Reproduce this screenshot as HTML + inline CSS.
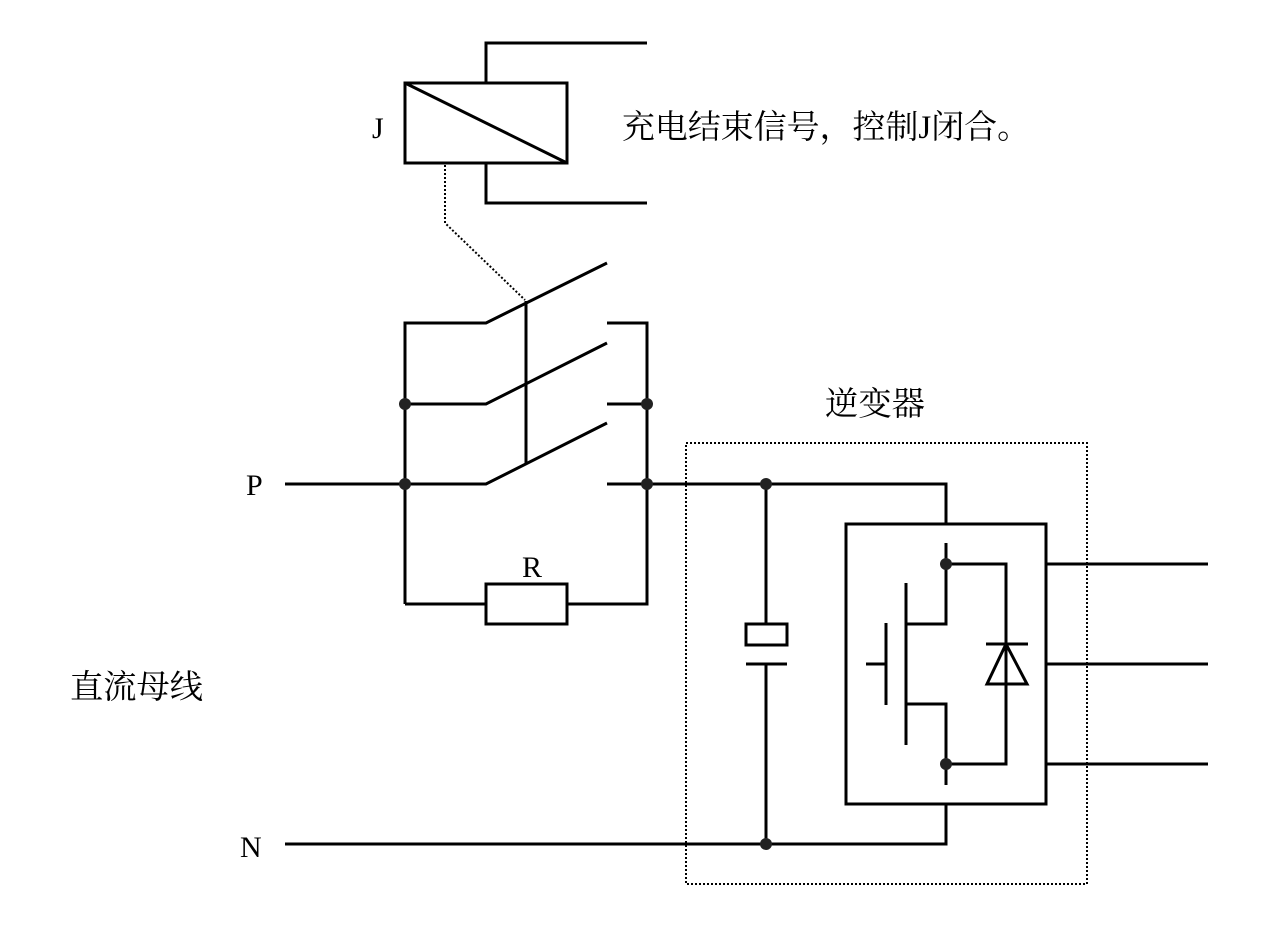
<!DOCTYPE html>
<html><head><meta charset="utf-8"><style>body{margin:0;background:#fff}svg{display:block}</style></head><body>
<svg width="1269" height="937" xmlns="http://www.w3.org/2000/svg" font-family="'Liberation Serif','Noto Serif CJK SC',serif">
<rect width="1269" height="937" fill="#fff"/>
<g stroke="#000" stroke-width="3" fill="none">
<rect x="405" y="83" width="162" height="80"/>
<line x1="405" y1="83" x2="567" y2="163"/>
<polyline points="486,83 486,43 647,43"/>
<polyline points="486,163 486,203 647,203"/>
<polyline points="405,604 405,323 486,323 607,263"/>
<polyline points="405,404 486,404 607,343"/>
<polyline points="285,484 486,484 607,423"/>
<line x1="526" y1="301" x2="526" y2="463"/>
<polyline points="607,323 647,323 647,604 567,604"/>
<line x1="607" y1="404" x2="647" y2="404"/>
<polyline points="607,484 946,484 946,524"/>
<polyline points="405,604 486,604"/>
<rect x="486" y="584" width="81" height="40"/>
<polyline points="285,844 946,844 946,804"/>
<line x1="766" y1="484" x2="766" y2="624"/>
<line x1="766" y1="664" x2="766" y2="844"/>
<rect x="746" y="624" width="41" height="21"/>
<line x1="746" y1="664" x2="787" y2="664"/>
<rect x="846" y="524" width="200" height="280"/>
<polyline points="946,543 946,624 906,624"/>
<line x1="906" y1="583" x2="906" y2="745"/>
<line x1="886" y1="623" x2="886" y2="705"/>
<line x1="866" y1="664" x2="886" y2="664"/>
<polyline points="906,704 946,704 946,785"/>
<polyline points="946,564 1006,564 1006,764 946,764"/>
<line x1="986" y1="644" x2="1028" y2="644"/>
<polygon points="1006,644 987,684 1027,684"/>
<line x1="1046" y1="564" x2="1208" y2="564"/>
<line x1="1046" y1="664" x2="1208" y2="664"/>
<line x1="1046" y1="764" x2="1208" y2="764"/>
</g>
<polyline points="445,165 445,223 525,300" stroke="#000" stroke-width="2" stroke-dasharray="2,2" fill="none"/>
<rect x="686" y="443" width="401" height="441" stroke="#000" stroke-width="2" stroke-dasharray="2,2" fill="none"/>
<g fill="#222">
<circle cx="405" cy="404" r="6"/><circle cx="405" cy="484" r="6"/>
<circle cx="647" cy="404" r="6"/><circle cx="647" cy="484" r="6"/>
<circle cx="766" cy="484" r="6"/><circle cx="766" cy="844" r="6"/>
<circle cx="946" cy="564" r="6"/><circle cx="946" cy="764" r="6"/>
</g>
<g font-size="30" fill="#000">
<text x="372" y="138">J</text>
<text x="246" y="495">P</text>
<text x="240" y="857">N</text>
<text x="522" y="577">R</text>
</g>
<g font-size="33" fill="#000">
<text x="622" y="138" textLength="408" lengthAdjust="spacingAndGlyphs">充电结束信号，控制J闭合。</text>
<text x="825" y="415" textLength="100" lengthAdjust="spacingAndGlyphs">逆变器</text>
<text x="70" y="698" textLength="133" lengthAdjust="spacingAndGlyphs">直流母线</text>
</g>
</svg>
</body></html>
